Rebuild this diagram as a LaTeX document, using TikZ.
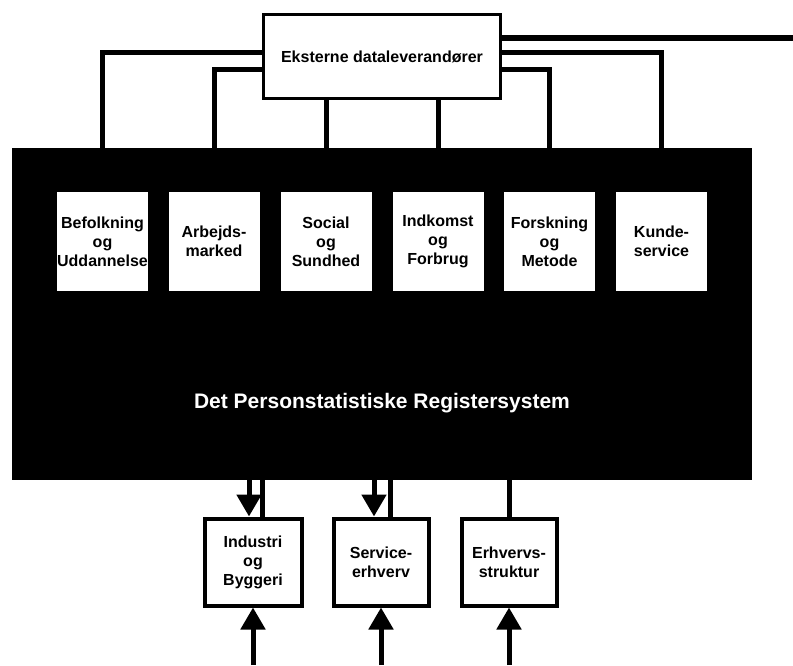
\documentclass[tikz,border=0pt]{standalone}
\usepackage{xcolor}
\usepackage{fontspec}
\setmainfont{Liberation Sans}
\usepackage{tikz}
\usetikzlibrary{arrows.meta,positioning}

\tikzset{
    regbox/.style={
        fill=white,
        inner sep=0pt,
        minimum width=91pt,
        minimum height=99pt,
        align=center,
        font=\bfseries\fontsize{16}{19}\selectfont
    },
    extbox/.style={
        draw,
        line width=3.5pt,
        fill=white,
        inner sep=0pt,
        minimum width=237pt,
        minimum height=84pt,
        font=\bfseries\fontsize{16}{19}\selectfont
    },
    erhbox/.style={
        draw,
        line width=4pt,
        fill=white,
        inner sep=0pt,
        minimum width=95pt,
        minimum height=87pt,
        align=center,
        font=\bfseries\fontsize{16}{19}\selectfont
    },
    link/.style={line width=5pt},
    arr/.style={line width=5pt, -{Triangle[width=24pt,length=22pt]}}
}

\begin{document}
\begin{tikzpicture}[x=1pt, y=-1pt]
                \useasboundingbox (0,0) rectangle (793,665);

                \node[
                    fill=black,
                    inner sep=0pt,
                    minimum width=740pt,
                    minimum height=332pt
                ] (reg) at (382,314) {};

                \node[
                    text=white,
                    font=\bfseries\fontsize{21}{25}\selectfont
                ] (regtitle) at (382,403) {Det Personstatistiske Registersystem};

                \node[extbox] (ext) at (382,56.5) {Eksterne dataleverandører};

                \node[regbox] (bef) at (102.5,241.5) {Befolkning\\og\\Uddannelse};
                \node[regbox] (arb) at (214,241.5) {Arbejds-\\marked};
                \node[regbox] (soc) at (326,241.5) {Social\\og\\Sundhed};
                \node[regbox] (ink) at (438,241.5) {Indkomst\\og\\Forbrug};
                \node[regbox] (fors) at (549.5,241.5) {Forskning\\og\\Metode};
                \node[regbox] (kun) at (661.5,241.5) {Kunde-\\service};

                \node[erhbox, minimum width=97pt] (byg) at (253,562) {Industri\\og\\Byggeri};
                \node[erhbox] (serv) at (381,562) {Service-\\erhverv};
                \node[erhbox] (struk) at (509,562) {Erhvervs-\\struktur};

                \draw[link] ([yshift=4pt]ext.west) -| (bef.north |- reg.north);
                \draw[link] ([yshift=-13pt]ext.west) -| (arb.north |- reg.north);
                \draw[link] (ext.south -| soc.north) -- (soc.north |- reg.north);
                \draw[link] (ext.south -| ink.north) -- (ink.north |- reg.north);
                \draw[link] ([yshift=-13pt]ext.east) -| (fors.north |- reg.north);
                \draw[link] ([yshift=4pt]ext.east) -| (kun.north |- reg.north);

                \coordinate (ud) at (793,38);
                \draw[link, line width=6pt] (ext.east |- ud) -- (ud);

                \draw[arr] ([xshift=-4pt]byg.north |- reg.south) -- ([xshift=-4pt]byg.north);
                \draw[link] ([xshift=9pt]byg.north |- reg.south) -- ([xshift=9pt]byg.north);
                \draw[arr] ([xshift=-7pt]serv.north |- reg.south) -- ([xshift=-7pt]serv.north);
                \draw[link] ([xshift=9pt]serv.north |- reg.south) -- ([xshift=9pt]serv.north);
                \draw[link] (struk.north |- reg.south) -- (struk.north);

                \coordinate (byg-ind) at (253,665);
                \coordinate (serv-ind) at (381,665);
                \coordinate (struk-ind) at (509,665);
                \draw[arr] (byg-ind) -- (byg.south);
                \draw[arr] (serv-ind) -- (serv.south);
                \draw[arr] (struk-ind) -- (struk.south);

            \end{tikzpicture}
\end{document}
